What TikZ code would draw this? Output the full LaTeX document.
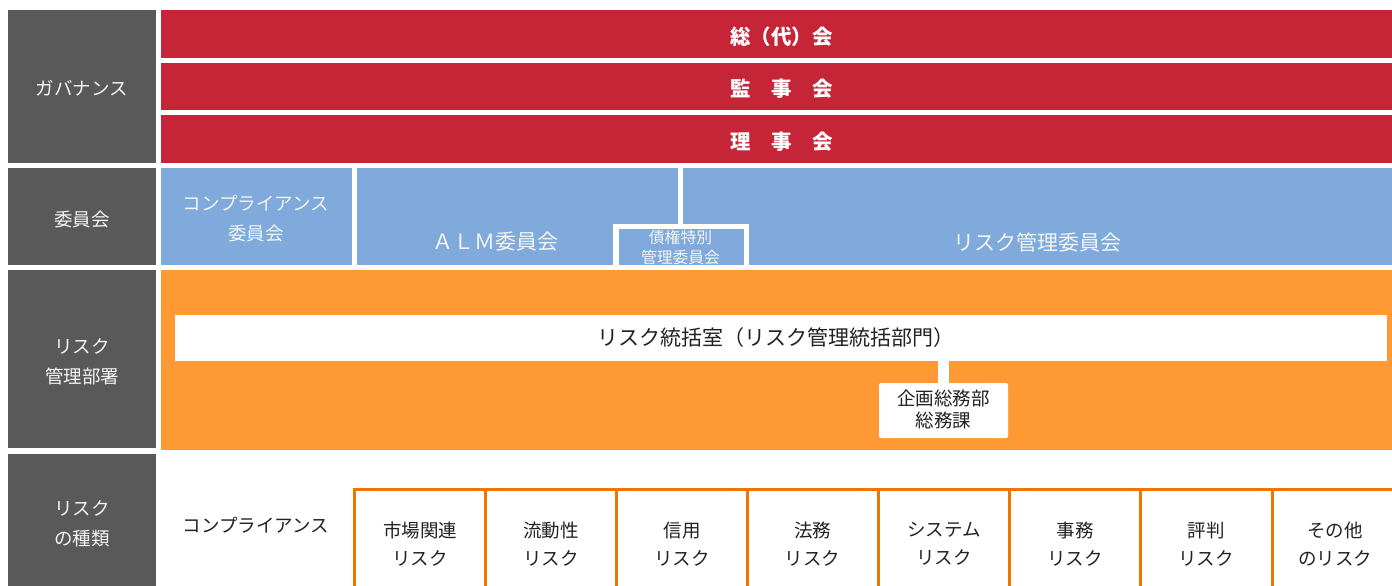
\documentclass[tikz,border=0pt]{standalone}
\usepackage{fontspec}
\setmainfont{Noto Sans CJK JP}
\definecolor{gov}{HTML}{C62437}
\definecolor{com}{HTML}{7FAADB}
\definecolor{dep}{HTML}{FF9933}
\definecolor{lab}{HTML}{595959}
\definecolor{rline}{HTML}{EE7600}
\definecolor{ink}{HTML}{222222}
\definecolor{paletxt}{HTML}{F4F4F4}
\newcommand{\myfs}[2]{\fontsize{#1bp}{#2bp}\selectfont}
\begin{document}
\begin{tikzpicture}[x=1bp,y=-1bp,
  labtxt/.style={text=paletxt, font=\myfs{18.5}{30}, align=center, inner sep=0pt},
  govtxt/.style={text=white, font=\myfs{20.5}{24}\bfseries, inner sep=0pt},
  comtxt/.style={text=paletxt, font=\myfs{18.5}{30}, align=center, inner sep=0pt},
  bigtxt/.style={text=paletxt, font=\myfs{21}{24}, inner sep=0pt},
  smalltxt/.style={text=paletxt, font=\myfs{15.8}{20}, align=center, inner sep=0pt},
  whitebox/.style={fill=white, draw=none, inner sep=0pt},
  inktxt/.style={text=ink, align=center, inner sep=0pt},
  risktxt/.style={text=ink, font=\myfs{18.5}{28}, align=center, inner sep=0pt},
  gridline/.style={draw=rline, line width=3bp}
]
\useasboundingbox (0,0) rectangle (1392,586);
\fill[white] (0,0) rectangle (1392,586);
% left labels
\fill[lab] (8,10) rectangle (156,163);
\fill[lab] (8,168) rectangle (156,265);
\fill[lab] (8,270) rectangle (156,448);
\fill[lab] (8,454) rectangle (156,586);
\node[labtxt] (lgov) at (82,88) {ガバナンス};
\node[labtxt] (lcom) at (82,220) {委員会};
\node[labtxt] (ldep) at (82,362) {リスク\\管理部署};
\node[labtxt] (ltyp) at (82,524) {リスク\\の種類};
% governance bars
\fill[gov] (161,10) rectangle (1392,58);
\fill[gov] (161,63) rectangle (1392,110);
\fill[gov] (161,115) rectangle (1392,163);
\node[govtxt] (sokai) at (781.5,36.5) {総（代）会};
\node[govtxt] (kanji) at (781.5,89) {監　事　会};
\node[govtxt] (riji) at (781.5,141.5) {理　事　会};
% committees
\fill[com] (161,168) rectangle (1392,265);
\fill[white] (351.7,168) rectangle (357,265);
\fill[white] (678,168) rectangle (683,224);
\fill[white] (612.6,224) rectangle (749,265);
\fill[com] (618.5,229) rectangle (744,265);
\node[comtxt] (ccomp) at (256,219) {コンプライアンス\\委員会};
\node[bigtxt] (calm) at (495,242) {ＡＬＭ委員会};
\node[smalltxt] (csaiken) at (680.5,247) {債権特別\\管理委員会};
\node[bigtxt] (crisk) at (1037,242) {リスク管理委員会};
% risk management departments
\fill[dep] (161,270) rectangle (1392,450);
\node[whitebox, minimum width=1212bp, minimum height=46bp] (bar) at (781,338) {};
\node[inktxt, font=\myfs{21}{24}] (bartxt) at (776,338) {リスク統括室（リスク管理統括部門）};
\node[whitebox, rounded corners=2bp, minimum width=129bp, minimum height=55bp] (kikaku) at (943.5,410.5) {};
\node[inktxt, font=\myfs{18.5}{22}] (kikakutxt) at (943.5,409) {企画総務部\\総務課};
\draw[white, line width=11.5bp] (bar.south -| kikaku.north) -- (kikaku.north);
% risk types
\node[risktxt] (rcomp) at (256,525) {コンプライアンス};
\draw[gridline] (354.5,489.5) -- (1392,489.5);
\foreach \xx in {354.5,485.5,616,747,878,1009,1140.5,1272}
  \draw[gridline] (\xx,488) -- (\xx,586);
\node[risktxt] (r1) at (420,544) {市場関連\\リスク};
\node[risktxt] (r2) at (551,544) {流動性\\リスク};
\node[risktxt] (r3) at (682,544) {信用\\リスク};
\node[risktxt] (r4) at (812.5,544) {法務\\リスク};
\node[risktxt] (r5) at (944,544) {システム\\リスク};
\node[risktxt] (r6) at (1075,544) {事務\\リスク};
\node[risktxt] (r7) at (1206,544) {評判\\リスク};
\node[risktxt] (r8) at (1335,544) {その他\\のリスク};
\end{tikzpicture}
\end{document}
